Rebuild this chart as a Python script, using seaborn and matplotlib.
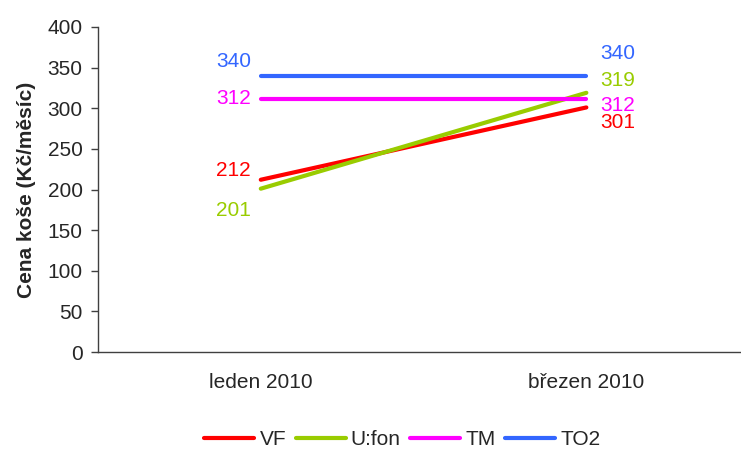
import pandas as pd
import matplotlib.pyplot as plt
import seaborn as sns

sns.set_style('white')
plt.rcParams['font.family'] = ['Liberation Sans', 'DejaVu Sans']

# data
months = ['leden 2010', 'březen 2010']
operators = ['VF', 'U:fon', 'TM', 'TO2']
vf = [212, 301]
ufon = [201, 319]
tm = [312, 312]
to2 = [340, 340]
colors = ['#FF0000', '#99CC00', '#FF00FF', '#3366FF']

# label offsets (points) for the data labels, (left, right)
offsets = {
    'VF': [(-7, 7), (10, -11)],
    'U:fon': [(-7, -16), (10, 9)],
    'TM': [(-7, 0), (10, -5)],
    'TO2': [(-7, 10), (10, 16)],
}

df = pd.DataFrame({
    'x': [0, 1] * 4,
    'cena': vf + ufon + tm + to2,
    'operator': [o for o in operators for _ in months],
})

fig = plt.figure(figsize=(7.41, 4.55), dpi=100)
ax = fig.add_axes([98 / 741, 1 - 352 / 455, 1 - 98 / 741, (352 - 27) / 455])

sns.lineplot(data=df, x='x', y='cena', hue='operator', hue_order=operators,
             palette=colors, linewidth=3, ax=ax, legend=False)

for op, col in zip(operators, colors):
    vals = df[df['operator'] == op]['cena'].tolist()
    for i, v in enumerate(vals):
        dx, dy = offsets[op][i]
        ax.annotate(str(v), (i, v), xytext=(dx, dy), textcoords='offset points',
                    ha='right' if i == 0 else 'left', va='center',
                    color=col, fontsize=15)

ax.set_xlim(-0.5, 1.475)
ax.set_ylim(0, 400)
ax.set_yticks(range(0, 401, 50))
ax.set_xticks([0, 1])
ax.set_xticklabels(months)
ax.set_xticks([-0.5, 0.5], minor=True)
ax.tick_params(axis='x', which='major', length=0, pad=15, labelsize=15)
ax.tick_params(axis='x', which='minor', length=5, width=1, color='#404040', direction='out')
ax.tick_params(axis='y', length=5, width=1, color='#404040', direction='out', pad=6, labelsize=15, left=True)
ax.set_xlabel('')
ax.set_ylabel('Cena koše (Kč/měsíc)', fontsize=15, fontweight='bold', labelpad=8)

for s in ['top', 'right']:
    ax.spines[s].set_visible(False)
for s in ['left', 'bottom']:
    ax.spines[s].set_color('#404040')
    ax.spines[s].set_linewidth(1)

handles = [plt.Line2D([], [], color=c, linewidth=3) for c in colors]
fig.legend(handles, operators, loc='center', bbox_to_anchor=(0.543, 0.033),
           ncol=4, frameon=False, fontsize=15, handlelength=2.4,
           handletextpad=0.25, columnspacing=0.45)

fig.savefig('out.png', dpi=100)
